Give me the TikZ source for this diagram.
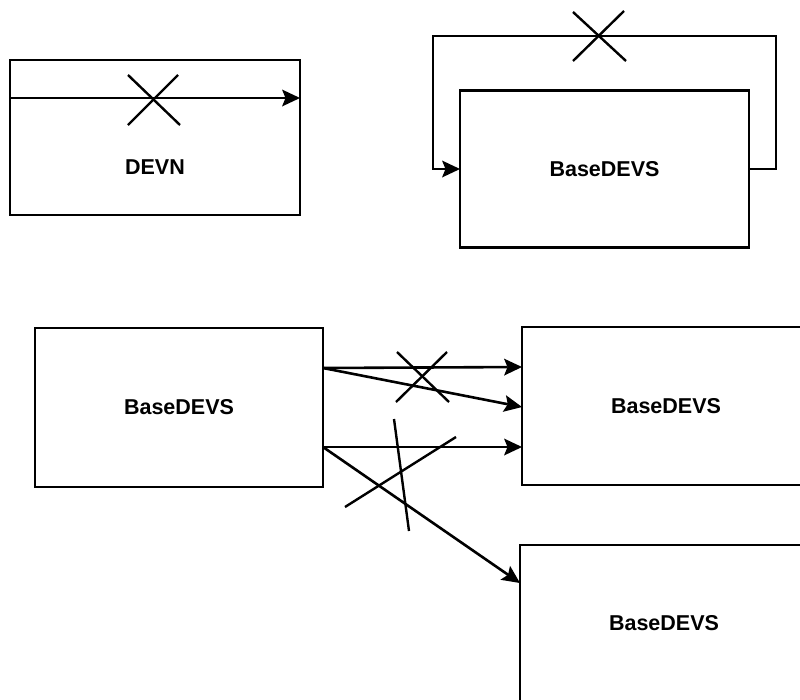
\documentclass[tikz,border=0pt]{standalone}
\usepackage{fontspec}
\setmainfont{Liberation Sans}
\usetikzlibrary{arrows.meta}
\begin{document}
\begin{tikzpicture}[x=1pt,y=-1pt,
  box/.style={draw,line width=2.6pt,rectangle,inner sep=0pt,outer sep=0pt,
    font=\fontsize{21.5}{25}\selectfont\bfseries},
  lbl/.style={inner sep=0pt,font=\fontsize{21.5}{25}\selectfont\bfseries},
  wire/.style={line width=2.6pt},
  arr/.style={wire,-{Stealth[length=18pt,width=17pt,inset=3.5pt,line width=0pt]}},
  cross/.style={line width=2.4pt}]
\useasboundingbox (0,0) rectangle (800,699);
\clip (0,0) rectangle (800,699);

% boxes
\node[box,minimum width=290pt,minimum height=155pt] (devn) at (155,137.5) {};
\node[lbl] (devnlbl) at (155,167) {DEVN};
\node[box,minimum width=289pt,minimum height=157pt] (top) at (604.5,169) {BaseDEVS};
\node[box,minimum width=288pt,minimum height=159pt] (left) at (179,407.5) {BaseDEVS};
\node[box,minimum width=288pt,minimum height=158pt] (mid) at (666,406) {BaseDEVS};
\node[box,minimum width=288pt,minimum height=156pt] (bot) at (664,623) {BaseDEVS};

% internal coupling of DEVN, forbidden
\draw[arr] ([yshift=39.5pt]devn.west) -- ([yshift=39.5pt]devn.east);
\draw[cross] (128,75) -- (180,125);
\draw[cross] (128,125) -- (178,75);

% self loop of BaseDEVS, forbidden
\draw[arr] (top.east) -- ++(27,0) -- ++(0,-133) -- ++(-343,0) |- (top.west);
\draw[cross] (573,12) -- (626,61);
\draw[cross] (624,11) -- (573,61);

% couplings between BaseDEVS models
\draw[arr] ([yshift=39.5pt]left.east) -- ([yshift=39pt]mid.west);
\draw[arr] ([yshift=39.5pt]left.east) -- ([yshift=-1pt]mid.west);
\draw[arr] ([yshift=-39.5pt]left.east) -- ([yshift=-41pt]mid.west);
\draw[arr] ([yshift=-39.5pt]left.east) -- ([yshift=40pt]bot.west);

% forbidden marks
\draw[cross] (397,352) -- (449,402);
\draw[cross] (447,352) -- (396,402);
\draw[cross] (394,419) -- (409,531);
\draw[cross] (345,507) -- (456,437);
\end{tikzpicture}
\end{document}
